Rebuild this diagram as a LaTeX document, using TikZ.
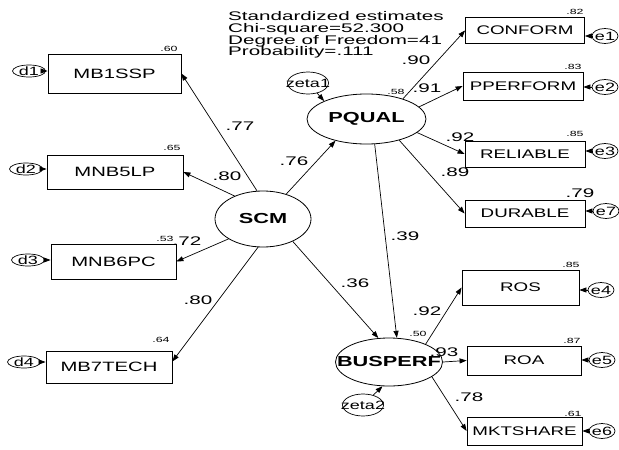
\documentclass[tikz,border=0pt]{standalone}
\usepackage{fontspec}
\setmainfont{Liberation Sans}
\newfontfamily\fa[FakeStretch=1.5]{Liberation Sans}
\newfontfamily\fb[FakeStretch=1.65]{Liberation Sans}
\usetikzlibrary{shapes.geometric,arrows.meta}
\tikzset{
  obsL/.style={draw, rectangle, line width=0.8pt, inner sep=0pt, font=\fa\fontsize{13.5}{15}\selectfont},
  obsR/.style={draw, rectangle, line width=0.8pt, inner sep=0pt, font=\fa\fontsize{12.5}{14}\selectfont},
  lat/.style={draw, ellipse, line width=0.8pt, inner sep=0pt},
  lattext/.style={font=\fa\bfseries\fontsize{14.5}{16}\selectfont, inner sep=0pt},
  errd/.style={draw, ellipse, line width=0.7pt, inner sep=0pt, minimum width=33pt, minimum height=12pt},
  erre/.style={draw, ellipse, line width=0.7pt, inner sep=0pt, minimum width=26pt, minimum height=15pt},
  errz/.style={draw, ellipse, line width=0.7pt, inner sep=0pt, minimum width=41pt, minimum height=22pt},
  errtext/.style={font=\fa\fontsize{12}{13}\selectfont, inner sep=0pt},
  arr/.style={-{Triangle[length=7pt,width=5pt]}, line width=0.7pt},
  coef/.style={font=\fb\fontsize{12.5}{14}\selectfont, inner sep=0pt},
  rsq/.style={font=\fb\fontsize{7.5}{9}\selectfont, inner sep=0pt},
  info/.style={font=\fb\fontsize{12.5}{14}\selectfont, inner sep=0pt, anchor=base west}
}
\begin{document}
\begin{tikzpicture}[x=1pt,y=-1pt]
\useasboundingbox (0,0) rectangle (619,450);
\fill[white] (0,0) rectangle (619,450);

% info text
\node[info] (st1) at (228,20.7) {Standardized estimates};
\node[info] (st2) at (228,32.3) {Chi-square=52.300};
\node[info] (st3) at (228,44) {Degree of Freedom=41};
\node[info] (st4) at (228,55.7) {Probability=.111};

% observed left
\node[obsL, minimum width=133pt, minimum height=39pt] (MB1SSP) at (114.5,73.5) {MB1SSP};
\node[obsL, minimum width=136pt, minimum height=34pt] (MNB5LP) at (115,172) {MNB5LP};
\node[obsL, minimum width=125pt, minimum height=35pt] (MNB6PC) at (113.5,261.5) {MNB6PC};
\node[obsL, minimum width=126pt, minimum height=32pt] (MB7TECH) at (109,367) {MB7TECH};

% observed right
\node[obsR, minimum width=119pt, minimum height=26pt] (CONFORM) at (525,30.5) {CONFORM};
\node[obsR, minimum width=120pt, minimum height=28pt] (PPERFORM) at (523,86) {PPERFORM};
\node[obsR, minimum width=120pt, minimum height=26pt] (RELIABLE) at (525,154) {RELIABLE};
\node[obsR, minimum width=120pt, minimum height=27pt] (DURABLE) at (525,213.5) {DURABLE};
\node[obsR, minimum width=117pt, minimum height=35pt] (ROS) at (520.5,287.5) {ROS};
\node[obsR, minimum width=114pt, minimum height=29pt] (ROA) at (524,360.5) {ROA};
\node[obsR, minimum width=115pt, minimum height=28pt] (MKTSHARE) at (524.5,431) {MKTSHARE};

% latent
\node[lat, minimum width=96pt, minimum height=56pt, label={[lattext]center:SCM}] (SCM) at (263,219) {};
\node[lat, minimum width=119pt, minimum height=50pt, label={[lattext]center:PQUAL}] (PQUAL) at (366.5,119) {};
\node[lat, minimum width=107pt, minimum height=48pt, label={[lattext]center:BUSPERF}] (BUSPERF) at (389,362) {};

% errors
\node[errd, label={[errtext]center:d1}] (d1) at (29,71) {};
\node[errd, label={[errtext]center:d2}] (d2) at (26,169) {};
\node[errd, label={[errtext]center:d3}] (d3) at (28,260) {};
\node[errd, label={[errtext]center:d4}] (d4) at (24,362) {};
\node[erre, label={[errtext]center:e1}] (e1) at (605,36) {};
\node[erre, label={[errtext]center:e2}] (e2) at (605,87) {};
\node[erre, label={[errtext]center:e3}] (e3) at (605,151) {};
\node[erre, label={[errtext]center:e7}] (e7) at (606,211) {};
\node[erre, label={[errtext]center:e4}] (e4) at (601,290) {};
\node[erre, label={[errtext]center:e5}] (e5) at (602,360) {};
\node[erre, label={[errtext]center:e6}] (e6) at (602,431) {};
\node[errz, label={[errtext]center:zeta1}] (zeta1) at (308,83) {};
\node[errz, label={[errtext]center:zeta2}] (zeta2) at (363,405) {};

% structural paths
\draw[arr] (SCM.102) -- (MB1SSP.east);
\draw[arr] (SCM.141) -- (MNB5LP.east);
\draw[arr] (SCM.210) -- (MNB6PC.east);
\draw[arr] (SCM.260) -- (MB7TECH.5);
\draw[arr] (SCM.47) -- (PQUAL.215);
\draw[arr] (SCM.-37) -- (BUSPERF.114);
\draw[arr] (PQUAL.288) -- (BUSPERF.72);
\draw[arr] (PQUAL.29) -- (CONFORM.west);
\draw[arr] (PQUAL.13) -- (PPERFORM.west);
\draw[arr] (PQUAL.-15) -- (RELIABLE.west);
\draw[arr] (PQUAL.-33) -- (DURABLE.west);
\draw[arr] (BUSPERF.26) -- (ROS.west);
\draw[arr] (BUSPERF.east) -- (ROA.west);
\draw[arr] (BUSPERF.-19) -- (MKTSHARE.west);
\draw[arr] (zeta1) -- (PQUAL.157);
\draw[arr] (zeta2) -- (BUSPERF.255);

% error arrows
\draw[arr] (d1) -- (d1 -| MB1SSP.west);
\draw[arr] (d2) -- (d2 -| MNB5LP.west);
\draw[arr] (d3) -- (d3 -| MNB6PC.west);
\draw[arr] (d4) -- (d4 -| MB7TECH.west);
\draw[arr] (e1) -- (e1 -| CONFORM.east);
\draw[arr] (e2) -- (e2 -| PPERFORM.east);
\draw[arr] (e3) -- (e3 -| RELIABLE.east);
\draw[arr] (e7) -- (e7 -| DURABLE.east);
\draw[arr] (e4) -- (e4 -| ROS.east);
\draw[arr] (e5) -- (e5 -| ROA.east);
\draw[arr] (e6) -- (e6 -| MKTSHARE.east);

% coefficients
\node[coef] (c1) at (240,126) {.77};
\node[coef] (c2) at (227,176) {.80};
\node[coef] (c3) at (187,241) {.72};
\node[coef] (c4) at (198,300) {.80};
\node[coef] (c5) at (294,161) {.76};
\node[coef] (c6) at (355,283) {.36};
\node[coef] (c7) at (405,236) {.39};
\node[coef] (c8) at (416,60) {.90};
\node[coef] (c9) at (427,88) {.91};
\node[coef] (c10) at (460,137) {.92};
\node[coef] (c11) at (455,172) {.89};
\node[coef] (c12) at (427,311) {.92};
\node[coef] (c13) at (444,352) {.93};
\node[coef] (c14) at (469,397) {.78};
\node[coef] (c15) at (580,193) {.79};

% squared multiple correlations
\node[rsq] (r1) at (169,49) {.60};
\node[rsq] (r2) at (172,148) {.65};
\node[rsq] (r3) at (165,239) {.53};
\node[rsq] (r4) at (161,340) {.64};
\node[rsq] (r5) at (575,12) {.82};
\node[rsq] (r6) at (573,67) {.83};
\node[rsq] (r7) at (575,134) {.85};
\node[rsq] (r8) at (571,265) {.85};
\node[rsq] (r9) at (572,341) {.87};
\node[rsq] (r10) at (573,414) {.61};
\node[rsq] (r11) at (396,92) {.58};
\node[rsq] (r12) at (418,334) {.50};
\end{tikzpicture}
\end{document}
